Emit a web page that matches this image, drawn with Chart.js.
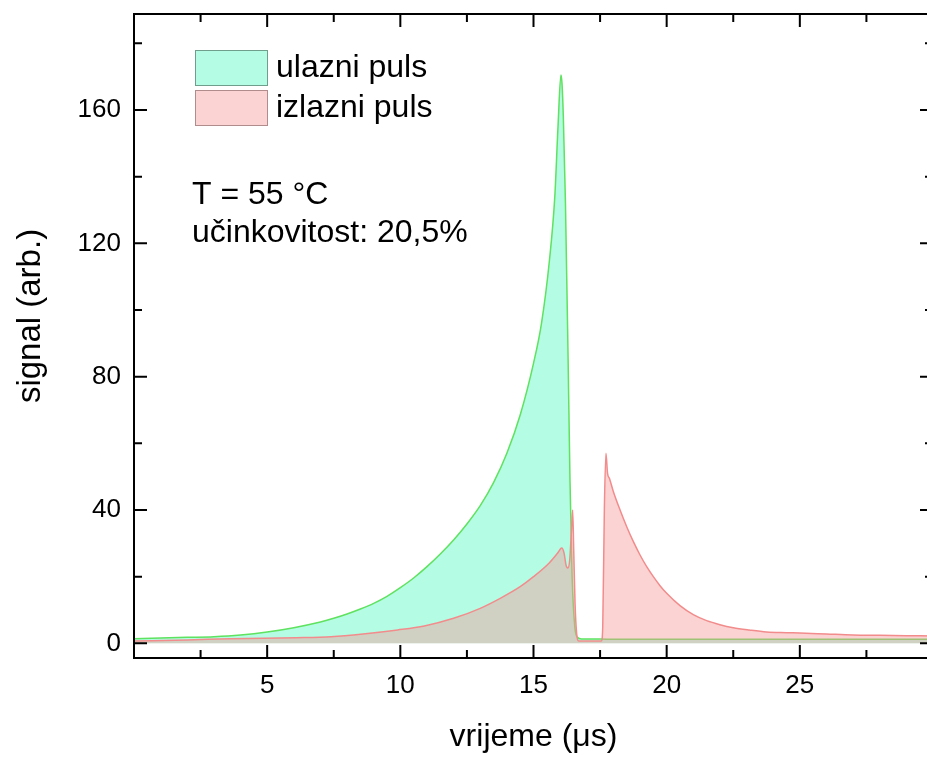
<!DOCTYPE html>
<html>
<head>
<meta charset="utf-8">
<title>ulazni i izlazni puls</title>
<script src="https://cdn.jsdelivr.net/npm/chart.js@4"></script>
<style>
    html, body { margin: 0; padding: 0; background: #fff; overflow: hidden; }
    #wrap { width: 927px; height: 757px; overflow: hidden; }
    canvas { display: block; }
</style>
</head>
<body>
<div id="wrap"><canvas id="pulseChart" width="945" height="757"></canvas></div>
<script>
// ulazni puls (zeleno)
const inputTime = [0, 1, 2, 3, 4, 5, 6, 7, 7.5, 8, 8.5, 9, 9.5, 10, 10.5, 11, 11.5, 12, 12.5, 13, 13.5, 14, 14.5, 15, 15.3, 15.6, 15.8, 15.92, 16.03, 16.07, 16.12, 16.2, 16.3, 16.37, 16.45, 16.55, 16.65, 16.8, 17.5, 18, 20, 22, 24, 26, 28, 30];
const inputSignal = [1.4, 1.6, 1.8, 2.0, 2.5, 3.4, 4.7, 6.4, 7.5, 8.8, 10.3, 12.0, 14.1, 16.7, 19.6, 23.0, 26.8, 31.0, 35.8, 41.3, 48.2, 57, 68.5, 84, 96, 115, 134, 155, 170.5, 168, 158, 132, 85, 49, 20, 5, 1.8, 1.3, 1.3, 1.2, 1.2, 1.2, 1.2, 1.2, 1.2, 1.2];

// izlazni puls (crveno)
const outputTime = [0, 2, 3.6, 6.1, 7.4, 8.6, 9.9, 10.9, 12, 13, 13.75, 14.5, 15, 15.6, 15.9, 16.06, 16.15, 16.22, 16.29, 16.36, 16.42, 16.47, 16.51, 16.56, 16.62, 16.7, 17, 17.55, 17.6, 17.66, 17.72, 17.78, 17.85, 18, 18.25, 18.5, 18.75, 19, 19.25, 19.5, 19.75, 20, 20.5, 21, 21.5, 22, 22.5, 23.1, 23.75, 24.5, 25, 26, 27, 28, 29, 30];
const outputSignal = [0.7, 1.0, 1.4, 1.7, 2.0, 2.8, 4.0, 5.2, 7.5, 10.5, 13.5, 17, 20, 24.2, 27, 28.6, 27, 23.5, 22.6, 25, 33, 40, 28, 12, 3, 0.7, 0.7, 0.7, 5, 40, 57, 51, 49.5, 45.5, 40, 35, 30.5, 26.5, 23, 20, 17.3, 15, 11.3, 8.6, 6.8, 5.6, 4.7, 4.0, 3.4, 3.2, 3.1, 2.8, 2.5, 2.4, 2.3, 2.2];

const xTickValues = [5, 10, 15, 20, 25];
const yTickValues = [0, 40, 80, 120, 160];
const seriesNames = ['ulazni puls', 'izlazni puls'];
const noteLines = ['T = 55 °C', 'učinkovitost: 20,5%'];
const yAxisTitle = 'signal (arb.)';

const FONT = "'Liberation Sans', Arial, sans-serif";

function toPoints(xs, ys) {
    return xs.map((x, i) => ({ x: x, y: ys[i] }));
}

// okvir, unutarnje oznake, legenda i tekst
const framePlugin = {
    id: 'framePlugin',
    afterDatasetsDraw(chart) {
        const { ctx, chartArea: a, scales } = chart;
        const sx = scales.x, sy = scales.y;
        ctx.save();
        ctx.strokeStyle = '#000';
        ctx.lineWidth = 2;
        ctx.strokeRect(a.left, a.top, a.right - a.left, a.bottom - a.top);

        ctx.beginPath();
        xTickValues.forEach(v => {
            const px = sx.getPixelForValue(v);
            ctx.moveTo(px, a.bottom); ctx.lineTo(px, a.bottom - 13);
            ctx.moveTo(px, a.top); ctx.lineTo(px, a.top + 13);
        });
        for (let v = 2.5; v < 30; v += 5) {
            const px = sx.getPixelForValue(v);
            ctx.moveTo(px, a.bottom); ctx.lineTo(px, a.bottom - 8);
            ctx.moveTo(px, a.top); ctx.lineTo(px, a.top + 8);
        }
        yTickValues.forEach(v => {
            const py = sy.getPixelForValue(v);
            ctx.moveTo(a.left, py); ctx.lineTo(a.left + 13, py);
            ctx.moveTo(a.right, py); ctx.lineTo(a.right - 13, py);
        });
        for (let v = 20; v < 190; v += 40) {
            const py = sy.getPixelForValue(v);
            ctx.moveTo(a.left, py); ctx.lineTo(a.left + 8, py);
            ctx.moveTo(a.right, py); ctx.lineTo(a.right - 8, py);
        }
        ctx.stroke();

        // legenda
        const swatchBorders = ['#6f9f8c', '#b08c8c'];
        ctx.font = '32px ' + FONT;
        ctx.textAlign = 'left';
        ctx.textBaseline = 'alphabetic';
        chart.data.datasets.forEach((ds, i) => {
            const top = 50 + i * 40;
            ctx.fillStyle = '#fff';
            ctx.fillRect(195, top, 72, 35);
            ctx.fillStyle = ds.backgroundColor;
            ctx.fillRect(195, top, 72, 35);
            ctx.lineWidth = 1;
            ctx.strokeStyle = swatchBorders[i];
            ctx.strokeRect(195.5, top + 0.5, 72, 35);
            ctx.fillStyle = '#000';
            ctx.fillText(seriesNames[i], 276, top + 27);
        });

        // uvjeti mjerenja
        ctx.fillText(noteLines[0], 192, 204);
        ctx.fillText(noteLines[1], 192, 242);

        // naslov y osi
        ctx.translate(40, 316);
        ctx.rotate(-Math.PI / 2);
        ctx.font = '33px ' + FONT;
        ctx.textAlign = 'center';
        ctx.fillText(yAxisTitle, 0, 0);
        ctx.restore();
    }
};

const chart = new Chart(document.getElementById('pulseChart'), {
    type: 'line',
    data: {
        datasets: [
            {
                label: seriesNames[0],
                data: toPoints(inputTime, inputSignal),
                borderColor: '#5fe25f',
                backgroundColor: '#b4fce4',
                borderWidth: 1.5,
                pointRadius: 0,
                fill: 'origin',
                cubicInterpolationMode: 'monotone',
                order: 1
            },
            {
                label: seriesNames[1],
                data: toPoints(outputTime, outputSignal),
                borderColor: '#f28c8c',
                backgroundColor: 'rgba(248, 150, 150, 0.42)',
                borderWidth: 1.5,
                pointRadius: 0,
                fill: 'origin',
                cubicInterpolationMode: 'monotone',
                order: 0
            }
        ]
    },
    options: {
        responsive: false,
        animation: false,
        devicePixelRatio: 1,
        layout: { padding: { left: 7, right: 12, top: 14, bottom: 0 } },
        plugins: {
            legend: { display: false },
            tooltip: { enabled: false }
        },
        scales: {
            x: {
                type: 'linear',
                min: 0,
                max: 30,
                grid: { display: false, drawTicks: false },
                border: { display: false },
                afterBuildTicks: s => { s.ticks = xTickValues.map(v => ({ value: v })); },
                afterFit: s => { s.height = 99; s.paddingLeft = 0; s.paddingRight = 0; },
                ticks: {
                    padding: 12,
                    maxRotation: 0,
                    color: '#000',
                    font: { family: FONT, size: 26 }
                },
                title: {
                    display: true,
                    text: 'vrijeme (μs)',
                    color: '#000',
                    font: { family: FONT, size: 32 },
                    padding: { top: 0, bottom: 1 }
                }
            },
            y: {
                type: 'linear',
                min: -4.4,
                max: 188.8,
                grid: { display: false, drawTicks: false },
                border: { display: false },
                afterBuildTicks: s => { s.ticks = yTickValues.map(v => ({ value: v })); },
                afterFit: s => { s.width = 127; s.paddingTop = 0; s.paddingBottom = 0; },
                ticks: {
                    padding: 13,
                    color: '#000',
                    font: { family: FONT, size: 26 }
                }
            }
        }
    },
    plugins: [framePlugin]
});
</script>
</body>
</html>
